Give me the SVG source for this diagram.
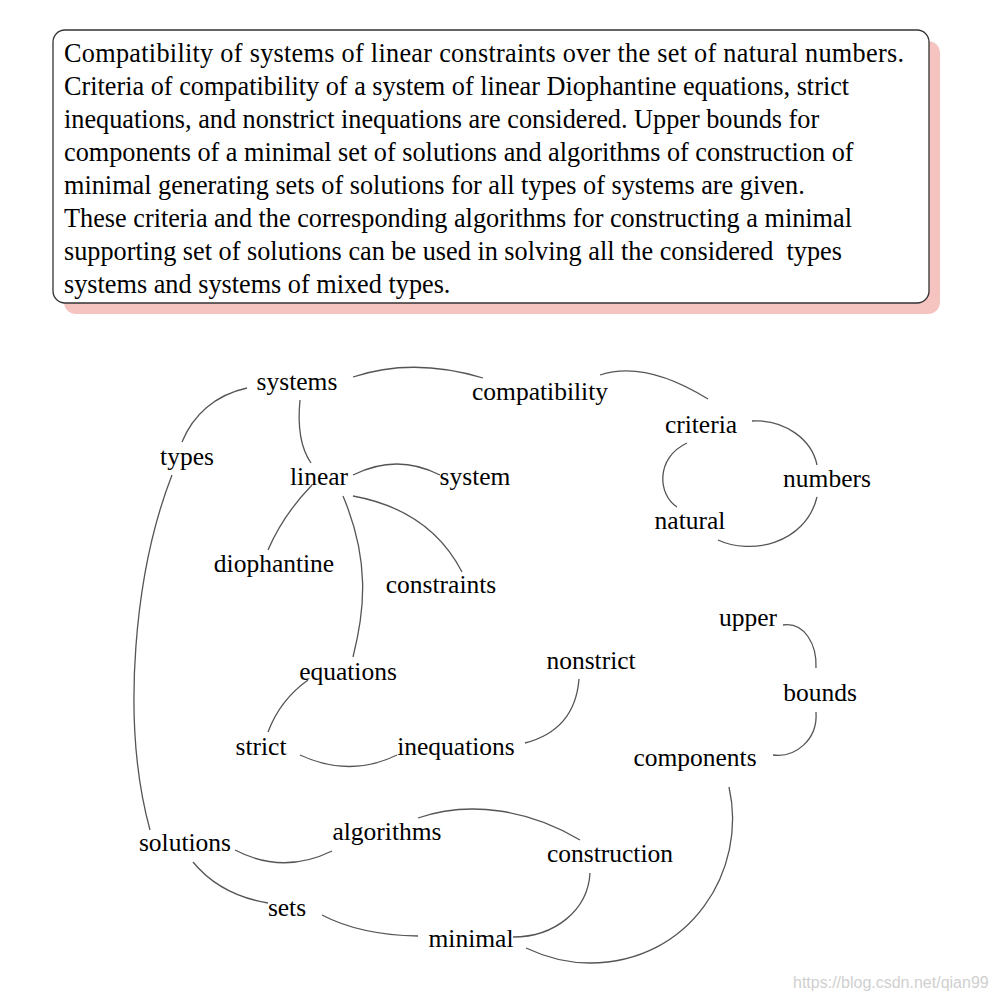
<svg xmlns="http://www.w3.org/2000/svg" width="996" height="1000" viewBox="0 0 996 1000">
<style>
.hdr{font-family:"Liberation Serif","Times New Roman",serif;font-size:26.25px;fill:#000;white-space:pre}
.lbl{font-family:"Liberation Serif","Times New Roman",serif;font-size:25.5px;fill:#000;text-anchor:middle}
.e{fill:none;stroke:#555;stroke-width:1.3}
.wm{font-family:"Liberation Sans",Arial,sans-serif;font-size:16px;fill:#d0d0d0}
</style>
<rect width="996" height="1000" fill="#fff"/>
<g id="abstract">
<rect x="64" y="41" width="876" height="273" rx="12" fill="#f5c3c0"/>
<rect x="53" y="30" width="876" height="273" rx="12" fill="#fff" stroke="#333" stroke-width="1.3"/>
<text class="hdr" x="64" y="62" textLength="840" lengthAdjust="spacing">Compatibility of systems of linear constraints over the set of natural numbers.</text>
<text class="hdr" x="64" y="95">Criteria of compatibility of a system of linear Diophantine equations, strict</text>
<text class="hdr" x="64" y="128">inequations, and nonstrict inequations are considered. Upper bounds for</text>
<text class="hdr" x="64" y="161">components of a minimal set of solutions and algorithms of construction of</text>
<text class="hdr" x="64" y="194">minimal generating sets of solutions for all types of systems are given.</text>
<text class="hdr" x="64" y="227">These criteria and the corresponding algorithms for constructing a minimal</text>
<text class="hdr" x="64" y="260" xml:space="preserve">supporting set of solutions can be used in solving all the considered  types</text>
<text class="hdr" x="64" y="293">systems and systems of mixed types.</text>
</g>
<g id="connectors">
<path class="e" d="M353,377 Q413,357 483,378"/>
<path class="e" d="M600,375 Q645,360 708,399"/>
<path class="e" d="M752,421 C785,419 812,440 817,465"/>
<path class="e" d="M817,497 C805,545 750,555 718,540"/>
<path class="e" d="M687,443 C655,458 658,495 677,507"/>
<path class="e" d="M247,388 C215,395 193,415 182,442"/>
<path class="e" d="M300,400 C297,430 302,450 311,463"/>
<path class="e" d="M172,475 C135,570 120,720 150,830"/>
<path class="e" d="M353,475 Q397,453 440,475"/>
<path class="e" d="M312,485 Q283,515 268,550"/>
<path class="e" d="M343,496 C370,560 365,610 353,657"/>
<path class="e" d="M353,496 Q430,510 462,572"/>
<path class="e" d="M308,680 Q280,700 268,732"/>
<path class="e" d="M300,755 Q350,778 397,755"/>
<path class="e" d="M525,743 Q575,730 579,679"/>
<path class="e" d="M783,625 C805,622 817,645 816,668"/>
<path class="e" d="M816,712 C818,740 795,758 773,755"/>
<path class="e" d="M729,787 C748,870 690,963 590,963 C565,963 545,957 526,948"/>
<path class="e" d="M590,873 C588,910 555,937 513,937"/>
<path class="e" d="M418,818 C470,800 530,810 580,840"/>
<path class="e" d="M235,850 Q283,875 332,851"/>
<path class="e" d="M193,862 Q220,895 268,903"/>
<path class="e" d="M322,915 Q360,935 418,936"/>
</g>
<g id="n-systems"><text class="lbl" x="297" y="390">systems</text></g>
<g id="n-compatibility"><text class="lbl" x="540" y="400">compatibility</text></g>
<g id="n-criteria"><text class="lbl" x="701" y="433">criteria</text></g>
<g id="n-numbers"><text class="lbl" x="827" y="487">numbers</text></g>
<g id="n-natural"><text class="lbl" x="690" y="529">natural</text></g>
<g id="n-types"><text class="lbl" x="187" y="465">types</text></g>
<g id="n-linear"><text class="lbl" x="319" y="485">linear</text></g>
<g id="n-system"><text class="lbl" x="475" y="485">system</text></g>
<g id="n-diophantine"><text class="lbl" x="274" y="572">diophantine</text></g>
<g id="n-constraints"><text class="lbl" x="441" y="593">constraints</text></g>
<g id="n-upper"><text class="lbl" x="748" y="626">upper</text></g>
<g id="n-nonstrict"><text class="lbl" x="591" y="669">nonstrict</text></g>
<g id="n-bounds"><text class="lbl" x="820" y="701">bounds</text></g>
<g id="n-equations"><text class="lbl" x="348" y="680">equations</text></g>
<g id="n-strict"><text class="lbl" x="261" y="755">strict</text></g>
<g id="n-inequations"><text class="lbl" x="456" y="755">inequations</text></g>
<g id="n-components"><text class="lbl" x="695" y="766">components</text></g>
<g id="n-solutions"><text class="lbl" x="185" y="851">solutions</text></g>
<g id="n-algorithms"><text class="lbl" x="387" y="840">algorithms</text></g>
<g id="n-construction"><text class="lbl" x="610" y="862">construction</text></g>
<g id="n-sets"><text class="lbl" x="287" y="916">sets</text></g>
<g id="n-minimal"><text class="lbl" x="471" y="947">minimal</text></g>
<text class="wm" x="793" y="988">https://blog.csdn.net/qian99</text>
</svg>
